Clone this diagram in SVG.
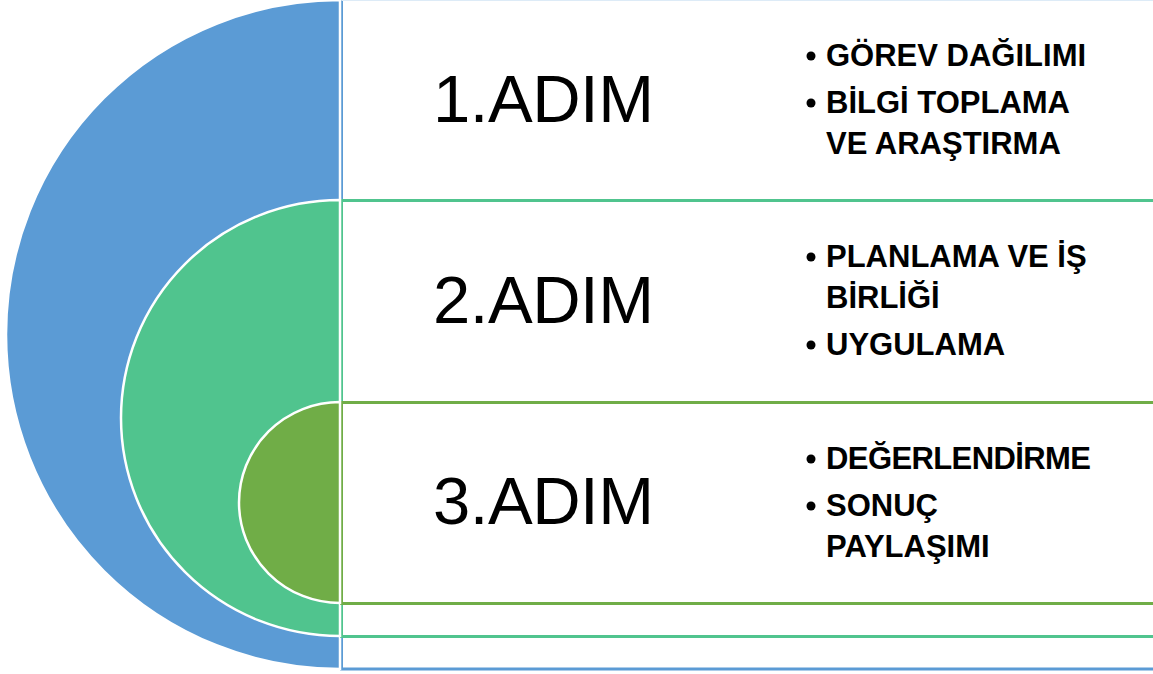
<svg xmlns="http://www.w3.org/2000/svg" width="1153" height="674" viewBox="0 0 1153 674">
<style>
.box{fill:#fff;stroke-width:3}
.arc{stroke:#fff;stroke-width:2.5}
.step{font-family:"Liberation Sans",Arial,sans-serif;font-size:67px;fill:#000}
.item{font-family:"Liberation Sans",Arial,sans-serif;font-size:31px;font-weight:bold;fill:#000}
.dot{fill:#000}
</style>
<rect width="1153" height="674" fill="#fff"/>
<g id="level1">
<rect class="box" x="341.5" y="-0.5" width="830" height="669.5" stroke="#5B9BD5"/>
<line x1="341.5" y1="0.5" x2="1153" y2="0.5" stroke="#DDEBF7" stroke-width="1"/>
<path class="arc" d="M340,0 A334,334.5 0 0 0 340,669 Z" fill="#5B9BD5"/>
<text class="step" x="433" y="122" textLength="221">1.ADIM</text>
<circle class="dot" cx="811" cy="56" r="4.5"/>
<text class="item" x="826" y="66">GÖREV DAĞILIMI</text>
<circle class="dot" cx="811" cy="103" r="4.5"/>
<text class="item" x="826" y="113">BİLGİ TOPLAMA</text>
<text class="item" x="826" y="154">VE ARAŞTIRMA</text>
</g>
<g id="level2">
<rect class="box" x="341.5" y="200.5" width="830" height="436" stroke="#50C48E"/>
<path class="arc" d="M340,200 A219,218 0 0 0 340,636 Z" fill="#50C48E"/>
<text class="step" x="433" y="323" textLength="221">2.ADIM</text>
<circle class="dot" cx="811" cy="257" r="4.5"/>
<text class="item" x="826" y="267">PLANLAMA VE İŞ</text>
<text class="item" x="826" y="308">BİRLİĞİ</text>
<circle class="dot" cx="811" cy="345" r="4.5"/>
<text class="item" x="826" y="355">UYGULAMA</text>
</g>
<g id="level3">
<rect class="box" x="341.5" y="402.5" width="830" height="201" stroke="#70AD47"/>
<path class="arc" d="M340,402 A101,100.5 0 0 0 340,603 Z" fill="#70AD47"/>
<text class="step" x="433" y="524" textLength="221">3.ADIM</text>
<circle class="dot" cx="811" cy="459" r="4.5"/>
<text class="item" x="826" y="469" textLength="265">DEĞERLENDİRME</text>
<circle class="dot" cx="811" cy="506" r="4.5"/>
<text class="item" x="826" y="516">SONUÇ</text>
<text class="item" x="826" y="557">PAYLAŞIMI</text>
</g>
<g id="connectors"></g>
</svg>
